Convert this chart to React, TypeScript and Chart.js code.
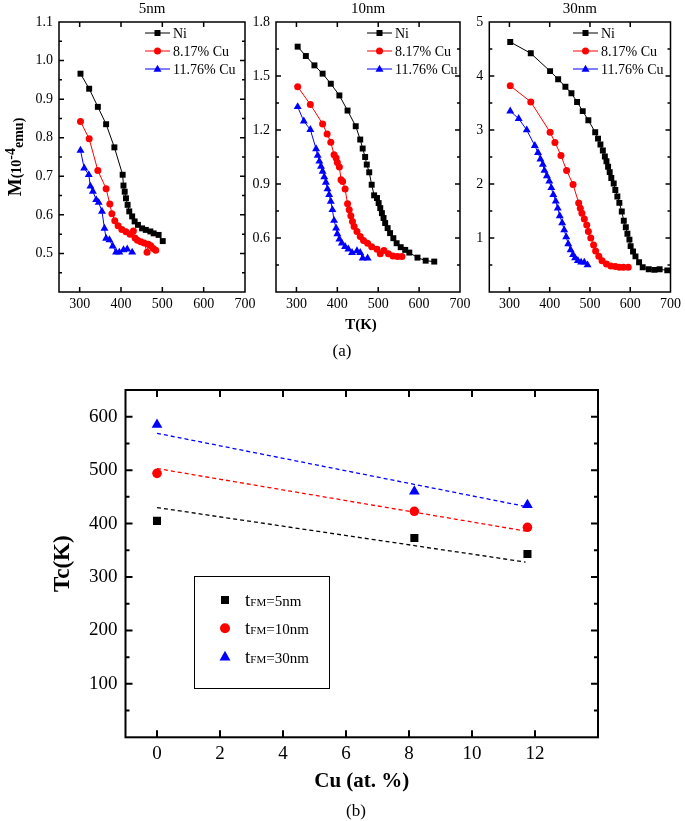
import React, { useEffect, useRef } from 'react';
import { Chart, registerables } from 'chart.js';

Chart.register(...registerables);
Chart.defaults.color = '#000';

const SERIF = '"Liberation Serif", "Times New Roman", Times, serif';
const W = 685;

// ---------- (a) M(T) curves ----------
const seriesNames = ['Ni', '8.17% Cu', '11.76% Cu'];
const seriesColors = ['#000000', '#ff0000', '#0000ff'];
const seriesStyles = ['rect', 'circle', 'triangle'];
const panelTitles = ['5nm', '10nm', '30nm'];

// 5 nm
const t5Ni = [302, 323, 344, 364, 384, 404, 406, 409, 412, 416, 420, 427, 433, 441, 451, 460, 471, 479, 491, 501];
const m5Ni = [0.966, 0.927, 0.88, 0.835, 0.775, 0.704, 0.676, 0.66, 0.643, 0.626, 0.609, 0.596, 0.583, 0.574, 0.565, 0.561, 0.557, 0.552, 0.548, 0.532];
const t5Cu8 = [302, 323, 344, 364, 373, 378, 385, 393, 402, 412, 422, 430, 434, 440, 448, 456, 463, 466, 472, 478, 484];
const m5Cu8 = [0.842, 0.797, 0.715, 0.668, 0.628, 0.603, 0.585, 0.572, 0.562, 0.556, 0.55, 0.558, 0.54, 0.534, 0.53, 0.527, 0.503, 0.524, 0.52, 0.513, 0.508];
const t5Cu12 = [302, 311, 322, 326, 332, 340, 346, 354, 360, 364, 372, 380, 388, 396, 406, 415, 427];
const m5Cu12 = [0.767, 0.721, 0.704, 0.674, 0.661, 0.639, 0.632, 0.609, 0.565, 0.539, 0.535, 0.519, 0.503, 0.503, 0.509, 0.511, 0.503];

// 10 nm
const t10Ni = [303, 323, 344, 364, 384, 405, 425, 445, 456, 462, 468, 472, 478, 484, 490, 497, 501, 505, 509, 513, 517, 523, 529, 537, 545, 555, 566, 576, 596, 616, 637];
const m10Ni = [1.663, 1.611, 1.559, 1.513, 1.457, 1.392, 1.308, 1.221, 1.147, 1.097, 1.05, 1.008, 0.965, 0.896, 0.837, 0.822, 0.794, 0.766, 0.738, 0.711, 0.683, 0.655, 0.627, 0.599, 0.571, 0.549, 0.534, 0.519, 0.491, 0.474, 0.469];
const t10Cu8 = [303, 334, 364, 375, 384, 392, 397, 400, 405, 409, 413, 419, 425, 429, 433, 437, 441, 448, 456, 464, 474, 484, 497, 505, 514, 525, 536, 547, 558];
const m10Cu8 = [1.44, 1.342, 1.234, 1.178, 1.132, 1.063, 1.045, 1.02, 0.995, 0.924, 0.914, 0.872, 0.79, 0.757, 0.723, 0.692, 0.664, 0.636, 0.608, 0.586, 0.571, 0.552, 0.538, 0.512, 0.53, 0.512, 0.5, 0.497, 0.497];
const t10Cu12 = [303, 318, 334, 348, 352, 356, 360, 364, 368, 372, 376, 380, 384, 388, 392, 397, 400, 405, 411, 419, 427, 436, 448, 456, 462, 474];
const m10Cu12 = [1.329, 1.249, 1.202, 1.095, 1.058, 1.026, 0.998, 0.97, 0.939, 0.909, 0.872, 0.84, 0.803, 0.757, 0.697, 0.655, 0.623, 0.594, 0.571, 0.552, 0.538, 0.519, 0.528, 0.519, 0.488, 0.488];

// 30 nm
const t30Ni = [302, 353, 401, 421, 439, 454, 468, 482, 496, 513, 520, 526, 532, 537, 541, 545, 549, 553, 559, 563, 568, 573, 579, 584, 589, 593, 598, 601, 607, 613, 622, 631, 646, 660, 673, 692];
const m30Ni = [4.63, 4.42, 4.09, 3.94, 3.8, 3.68, 3.52, 3.35, 3.18, 2.96, 2.84, 2.73, 2.62, 2.51, 2.42, 2.32, 2.22, 2.11, 2.01, 1.89, 1.77, 1.65, 1.49, 1.32, 1.2, 1.08, 0.97, 0.85, 0.75, 0.66, 0.55, 0.46, 0.42, 0.41, 0.42, 0.4];
const t30Cu8 = [302, 353, 401, 413, 428, 442, 458, 472, 476, 480, 486, 492, 496, 502, 509, 514, 522, 530, 541, 552, 563, 573, 583, 595];
const m30Cu8 = [3.82, 3.52, 2.96, 2.77, 2.53, 2.25, 1.99, 1.65, 1.55, 1.46, 1.35, 1.24, 1.12, 1.0, 0.87, 0.76, 0.66, 0.58, 0.52, 0.48, 0.47, 0.46, 0.46, 0.46];
const t30Cu12 = [302, 323, 343, 363, 371, 377, 383, 387, 393, 399, 404, 409, 415, 420, 425, 431, 436, 441, 446, 452, 458, 463, 470, 478, 486, 494];
const m30Cu12 = [3.35, 3.21, 3.0, 2.71, 2.58, 2.46, 2.36, 2.25, 2.15, 2.05, 1.93, 1.8, 1.68, 1.55, 1.41, 1.28, 1.15, 1.02, 0.89, 0.78, 0.69, 0.63, 0.58, 0.55, 0.55, 0.5];

// ---------- (b) Tc vs Cu ----------
const cuContent = [0, 8.17, 11.76];
const tc5 = [405, 373, 343];
const tc10 = [494, 423, 393];
const tc30 = [585, 460, 435];
const fitX = [0, 11.7];
const fit5 = [430, 328];
const fit10 = [503, 386];
const fit30 = [569, 432];
const tcLabels = ['5nm', '10nm', '30nm'];

const zip = (xs: number[], ys: number[]) => xs.map((x, i) => ({ x, y: ys[i] }));

function drawMarker(ctx: CanvasRenderingContext2D, style: string, x: number, y: number, s: number, color: string) {
  ctx.fillStyle = color;
  ctx.beginPath();
  if (style === 'rect') ctx.rect(x - s / 2, y - s / 2, s, s);
  else if (style === 'circle') ctx.arc(x, y, s / 2, 0, Math.PI * 2);
  else {
    const h = s * 0.87;
    ctx.moveTo(x, y - h * 0.6);
    ctx.lineTo(x + s / 2, y + h * 0.4);
    ctx.lineTo(x - s / 2, y + h * 0.4);
    ctx.closePath();
  }
  ctx.fill();
}

const framePlugin = {
  id: 'frame',
  afterDraw(chart: any, _a: any, o: any) {
    const { ctx, chartArea: a } = chart;
    const xs = chart.scales.x;
    const ys = chart.scales.y;
    ctx.save();
    ctx.strokeStyle = '#000';
    ctx.lineWidth = o.lw;
    ctx.beginPath();
    xs.ticks.forEach((t: any) => {
      const px = xs.getPixelForValue(t.value);
      if (px <= a.left + 1 || px >= a.right - 1) return;
      const len = t.label ? o.major : o.minor;
      ctx.moveTo(px, a.bottom); ctx.lineTo(px, a.bottom - len);
      ctx.moveTo(px, a.top); ctx.lineTo(px, a.top + len);
    });
    ys.ticks.forEach((t: any) => {
      const py = ys.getPixelForValue(t.value);
      if (py <= a.top + 1 || py >= a.bottom - 1) return;
      const len = t.label ? o.major : o.minor;
      ctx.moveTo(a.left, py); ctx.lineTo(a.left + len, py);
      ctx.moveTo(a.right, py); ctx.lineTo(a.right - len, py);
    });
    ctx.stroke();
    ctx.strokeRect(a.left, a.top, a.right - a.left, a.bottom - a.top);
    ctx.restore();
  },
};

const topMarker = [6, 7, 8];

const panelDeco = {
  id: 'panelDeco',
  afterDraw(chart: any, _a: any, o: any) {
    const { ctx, chartArea: a } = chart;
    ctx.save();
    ctx.fillStyle = '#000';
    ctx.font = `15px ${SERIF}`;
    ctx.textAlign = 'center';
    ctx.textBaseline = 'middle';
    ctx.fillText(o.title, (a.left + a.right) / 2, 9);
    // legend
    chart.data.datasets.forEach((ds: any, i: number) => {
      const y = 33 + i * 18;
      const lx = o.legendX;
      ctx.strokeStyle = ds.borderColor;
      ctx.lineWidth = 1;
      ctx.beginPath();
      ctx.moveTo(lx, y); ctx.lineTo(lx + 25, y);
      ctx.stroke();
      drawMarker(ctx, ds.pointStyle, lx + 12.5, y, topMarker[i], ds.borderColor);
      ctx.fillStyle = '#000';
      ctx.font = `14px ${SERIF}`;
      ctx.textAlign = 'left';
      ctx.fillText(ds.label, lx + 28, y + 1);
    });
    if (o.yTitle) {
      const parts = [
        { t: 'M', f: `bold 19px ${SERIF}`, dy: 0 },
        { t: '(10', f: `bold 14px ${SERIF}`, dy: 0 },
        { t: '-4', f: `bold 14px ${SERIF}`, dy: -6 },
        { t: 'emu)', f: `bold 14px ${SERIF}`, dy: 2 },
      ];
      ctx.save();
      ctx.translate(15, (a.top + a.bottom) / 2);
      ctx.rotate(-Math.PI / 2);
      ctx.textAlign = 'left';
      ctx.textBaseline = 'alphabetic';
      let total = 0;
      const ws = parts.map((p) => { ctx.font = p.f; const w = ctx.measureText(p.t).width; total += w; return w; });
      let x = -total / 2;
      parts.forEach((p, k) => { ctx.font = p.f; ctx.fillText(p.t, x, 6 + p.dy); x += ws[k]; });
      ctx.restore();
    }
    if (o.xTitle) {
      ctx.font = `bold 15px ${SERIF}`;
      ctx.textAlign = 'center';
      ctx.textBaseline = 'middle';
      ctx.fillText('T(K)', 361, 325);
      ctx.font = `17px ${SERIF}`;
      ctx.fillText('(a)', 342, 352);
    }
    ctx.restore();
  },
};

const panels = [
  { title: panelTitles[0], left: 59, right: 245, yW: 59, yMin: 0.4, yMax: 1.1, yStep: 0.05, yMajor: 0.1, dec: 1, legendX: 145, series: [[t5Ni, m5Ni], [t5Cu8, m5Cu8], [t5Cu12, m5Cu12]], yTitle: true, xTitle: false },
  { title: panelTitles[1], left: 276, right: 460, yW: 40, yMin: 0.3, yMax: 1.8, yStep: 0.15, yMajor: 0.3, dec: 1, legendX: 367, series: [[t10Ni, m10Ni], [t10Cu8, m10Cu8], [t10Cu12, m10Cu12]], yTitle: false, xTitle: true },
  { title: panelTitles[2], left: 489.3, right: 675, yW: 40, yMin: 0, yMax: 5, yStep: 0.5, yMajor: 1, dec: 0, legendX: 573, series: [[t30Ni, m30Ni], [t30Cu8, m30Cu8], [t30Cu12, m30Cu12]], yTitle: false, xTitle: false },
];

function panelConfig(p: any): any {
  const datasets = p.series.map(([t, m]: number[][], i: number) => ({
    label: seriesNames[i],
    data: zip(t, m),
    borderColor: seriesColors[i],
    backgroundColor: seriesColors[i],
    borderWidth: 1,
    pointStyle: seriesStyles[i],
    pointRadius: [4.2, 3.5, 4.6][i],
    pointBorderWidth: 0,
    showLine: true,
    fill: false,
    tension: 0,
  }));
  const tickFont = { family: SERIF, size: 14 };
  return {
    type: 'scatter',
    data: { datasets },
    options: {
      responsive: false,
      animation: false,
      events: [],
      layout: { padding: { left: p.left - p.yW, right: W - p.right, top: 22, bottom: 33 } },
      scales: {
        x: {
          type: 'linear', min: 250, max: 700,
          grid: { display: false, drawTicks: false }, border: { display: false },
          ticks: {
            stepSize: 100, includeBounds: false, autoSkip: false, maxRotation: 0, padding: 4, font: tickFont, color: '#000',
            callback: (v: number) => (v % 100 === 0 && v >= 300 ? String(v) : ''),
          },
          afterFit: (s: any) => { s.height = 45; },
        },
        y: {
          type: 'linear', min: p.yMin, max: p.yMax,
          grid: { display: false, drawTicks: false }, border: { display: false },
          ticks: {
            stepSize: p.yStep, autoSkip: false, padding: 6, font: tickFont, color: '#000',
            callback: (v: number) => {
              const k = v / p.yMajor;
              return Math.abs(k - Math.round(k)) < 1e-6 && v > p.yMin + 1e-9 ? v.toFixed(p.dec) : '';
            },
          },
          afterFit: (s: any) => { s.width = p.yW; },
        },
      },
      plugins: {
        legend: { display: false },
        tooltip: { enabled: false },
        frame: { lw: 1.5, major: 5, minor: 3 },
        panelDeco: { title: p.title, legendX: p.legendX, yTitle: p.yTitle, xTitle: p.xTitle },
      },
    },
    plugins: [framePlugin, panelDeco],
  };
}

const tcStyles = ['rect', 'circle', 'triangle'];
const tcLegendSize = [8, 10, 11];

const tcDeco = {
  id: 'tcDeco',
  afterDraw(chart: any) {
    const { ctx } = chart;
    ctx.save();
    ctx.strokeStyle = '#000';
    ctx.lineWidth = 1;
    ctx.strokeRect(194.5, 206.5, 135, 112);
    tcLabels.forEach((lab, i) => {
      const y = 230 + i * 28.3;
      drawMarker(ctx, tcStyles[i], 225, y, tcLegendSize[i], seriesColors[i]);
      ctx.fillStyle = '#000';
      ctx.textAlign = 'left';
      ctx.textBaseline = 'alphabetic';
      let x = 245;
      const base = y + 6;
      ctx.font = `19px ${SERIF}`;
      ctx.fillText('t', x, base);
      x += ctx.measureText('t').width;
      ctx.font = `11px ${SERIF}`;
      ctx.fillText('FM', x, base);
      x += ctx.measureText('FM').width;
      ctx.font = `15px ${SERIF}`;
      ctx.fillText('=' + lab, x, base);
    });
    ctx.font = `17px ${SERIF}`;
    ctx.textAlign = 'center';
    ctx.textBaseline = 'middle';
    ctx.fillText('(b)', 356, 442);
    ctx.restore();
  },
};

function tcConfig(): any {
  const tcSets = [tc5, tc10, tc30];
  const fits = [fit5, fit10, fit30];
  const datasets: any[] = [];
  tcSets.forEach((vals, i) => {
    datasets.push({
      label: 'tFM=' + tcLabels[i],
      data: zip(cuContent, vals),
      showLine: false,
      pointStyle: tcStyles[i],
      pointRadius: [5.7, 4.8, 6.2][i],
      pointBorderWidth: 0,
      backgroundColor: seriesColors[i],
      borderColor: seriesColors[i],
    });
  });
  fits.forEach((vals, i) => {
    datasets.push({
      label: 'fit ' + tcLabels[i],
      data: zip(fitX, vals),
      showLine: true,
      borderDash: [4, 3],
      borderWidth: 1.3,
      pointRadius: 0,
      borderColor: seriesColors[i],
      backgroundColor: seriesColors[i],
      fill: false,
    });
  });
  const tickFont = { family: SERIF, size: 19 };
  return {
    type: 'scatter',
    data: { datasets },
    options: {
      responsive: false,
      animation: false,
      events: [],
      layout: { padding: { left: 40, right: 87, top: 20, bottom: 23.7 } },
      scales: {
        x: {
          type: 'linear', min: -1, max: 14,
          grid: { display: false, drawTicks: false }, border: { display: false },
          ticks: {
            stepSize: 2, includeBounds: false, autoSkip: false, maxRotation: 0, padding: 5, font: tickFont, color: '#000',
            callback: (v: number) => (v >= 0 && v <= 12 && v % 2 === 0 ? String(v) : ''),
          },
          title: { display: true, text: 'Cu (at. %)', font: { family: SERIF, size: 21, weight: 'bold' }, color: '#000', padding: { top: 0, bottom: 2.7 } },
          afterFit: (s: any) => { s.height = 60; },
        },
        y: {
          type: 'linear', min: 0, max: 650,
          grid: { display: false, drawTicks: false }, border: { display: false },
          ticks: {
            stepSize: 50, autoSkip: false, padding: 8, font: tickFont, color: '#000',
            callback: (v: number) => (v % 100 === 0 && v > 0 ? String(v) : ''),
          },
          title: { display: true, text: 'Tc(K)', font: { family: SERIF, size: 23, weight: 'bold' }, color: '#000', padding: { top: 9, bottom: 0 } },
          afterFit: (s: any) => { s.width = 85.5; },
        },
      },
      plugins: {
        legend: { display: false },
        tooltip: { enabled: false },
        frame: { lw: 2, major: 7, minor: 4 },
      },
    },
    plugins: [framePlugin, tcDeco],
  };
}

export default function App() {
  const r0 = useRef<HTMLCanvasElement>(null);
  const r1 = useRef<HTMLCanvasElement>(null);
  const r2 = useRef<HTMLCanvasElement>(null);
  const r3 = useRef<HTMLCanvasElement>(null);
  useEffect(() => {
    const refs = [r0, r1, r2];
    const charts: Chart[] = [];
    panels.forEach((p, i) => {
      charts.push(new Chart(refs[i].current as HTMLCanvasElement, panelConfig(p)));
    });
    charts.push(new Chart(r3.current as HTMLCanvasElement, tcConfig()));
    return () => charts.forEach((c) => c.destroy());
  }, []);
  const abs: React.CSSProperties = { position: 'absolute', left: 0, top: 0 };
  return (
    <div style={{ position: 'absolute', left: 0, top: 0, width: 685, height: 821, background: '#fff', overflow: 'hidden' }}>
      <canvas ref={r0} width={685} height={370} style={abs} />
      <canvas ref={r1} width={685} height={370} style={abs} />
      <canvas ref={r2} width={685} height={370} style={abs} />
      <canvas ref={r3} width={685} height={451} style={{ position: 'absolute', left: 0, top: 370 }} />
    </div>
  );
}
